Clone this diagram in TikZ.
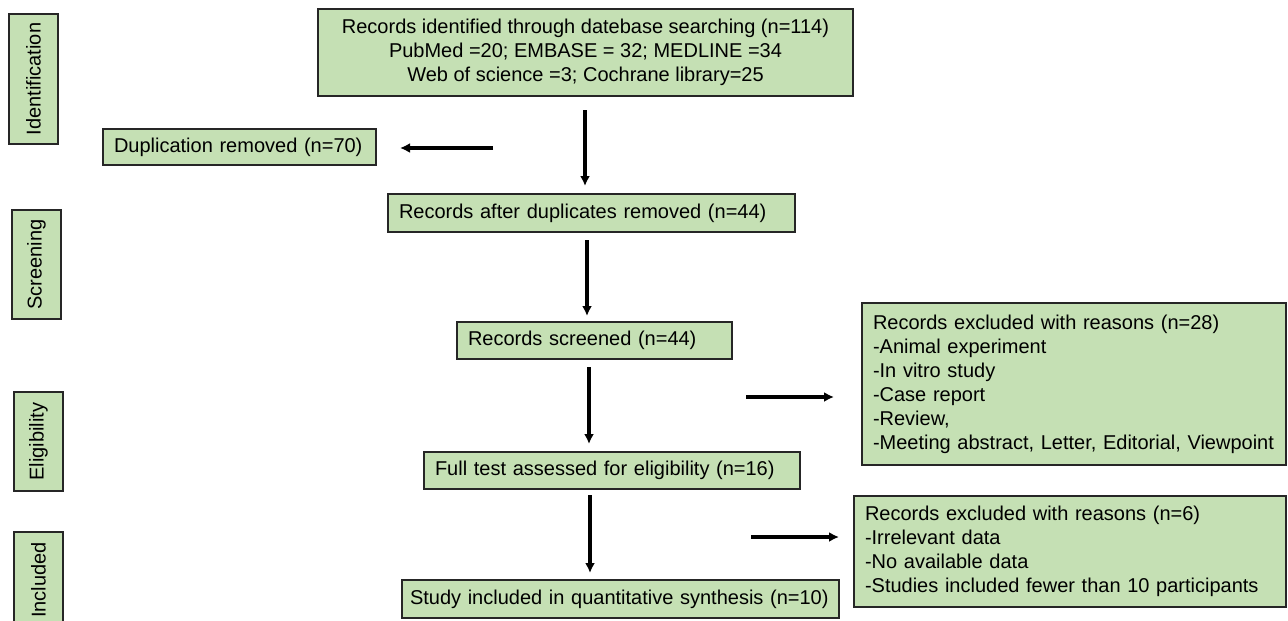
\documentclass[tikz,border=0pt]{standalone}
\usepackage{fontspec}
\setmainfont{Liberation Sans}
\usetikzlibrary{arrows.meta,positioning}
\definecolor{boxgreen}{HTML}{C5E0B4}

\begin{document}
\begin{tikzpicture}[
		x=1pt, y=-1pt,
		arrow/.style={-{Latex[length=10pt,width=10pt]}, line width=3.2pt},
		block/.style={draw=black!85, line width=1.4pt, fill=boxgreen, inner ysep=0pt, font=\fontsize{20}{24}\selectfont},
		lblock/.style={block, align=left, inner xsep=11pt},
		phase/.style={block, rotate=90, minimum height=49pt, inner xsep=0pt},
	]
		\useasboundingbox (0,0) rectangle (1288,621);
		% phase labels
		\node (ident) [phase, minimum width=130pt] at (33.5,79) {Identification};
		\node (scrn) [phase, minimum width=109pt] at (36.5,264.5) {Screening};
		\node (elig) [phase, minimum width=99pt] at (38.5,441.5) {Eligibility};
		\node (incl) [phase, minimum width=96pt] at (38.5,580) {Included};
		% main column
		\node (srch) [block, align=center, minimum width=535pt, minimum height=87pt] at (585.5,52.5)
			{Records identified through datebase searching (n=114)\\PubMed =20; EMBASE = 32; MEDLINE =34\\Web of science =3; Cochrane library=25};
		\node (dup) [lblock, text width=251pt, minimum height=36pt] at (239.5,147) {Duplication removed (n=70)};
		\node (after) [lblock, text width=385pt, minimum height=38pt] at (591.5,213) {Records after duplicates removed (n=44)};
		\node (scr) [lblock, text width=253pt, minimum height=37pt] at (594.5,340.5) {Records screened (n=44)};
		\node (full) [lblock, text width=354pt, minimum height=37pt] at (612,470.5) {Full test assessed for eligibility (n=16)};
		\node (study) [lblock, text width=421pt, minimum height=38pt, inner xsep=8pt] at (620.5,599) {Study included in quantitative synthesis (n=10)};
		% exclusions
		\node (exa) [lblock, text width=402pt, minimum height=162pt] at (1074,384)
			{Records excluded with reasons (n=28)\\-Animal experiment\\-In vitro study\\-Case report\\-Review,\\-Meeting abstract, Letter, Editorial, Viewpoint};
		\node (exb) [lblock, text width=410pt, minimum height=111pt] at (1070,551.5)
			{Records excluded with reasons (n=6)\\-Irrelevant data\\-No available data\\-Studies included fewer than 10 participants};
		% arrows
		\coordinate (d1) at (493,148);
		\coordinate (d2) at (400,148);
		\coordinate (v1a) at (585,110);
		\coordinate (v1b) at (585,186);
		\coordinate (v2a) at (587,240);
		\coordinate (v2b) at (587,316);
		\coordinate (v3a) at (589,367);
		\coordinate (v3b) at (589,444);
		\coordinate (v4a) at (590,495);
		\coordinate (v4b) at (590,573);
		\coordinate (e1a) at (746,397);
		\coordinate (e1b) at (834,397);
		\coordinate (e2a) at (751,537);
		\coordinate (e2b) at (839,537);
		\draw [arrow] (d1) -- (d2);
		\draw [arrow] (v1a) -- (v1b);
		\draw [arrow] (v2a) -- (v2b);
		\draw [arrow] (v3a) -- (v3b);
		\draw [arrow] (v4a) -- (v4b);
		\draw [arrow] (e1a) -- (e1b);
		\draw [arrow] (e2a) -- (e2b);
	\end{tikzpicture}
\end{document}
